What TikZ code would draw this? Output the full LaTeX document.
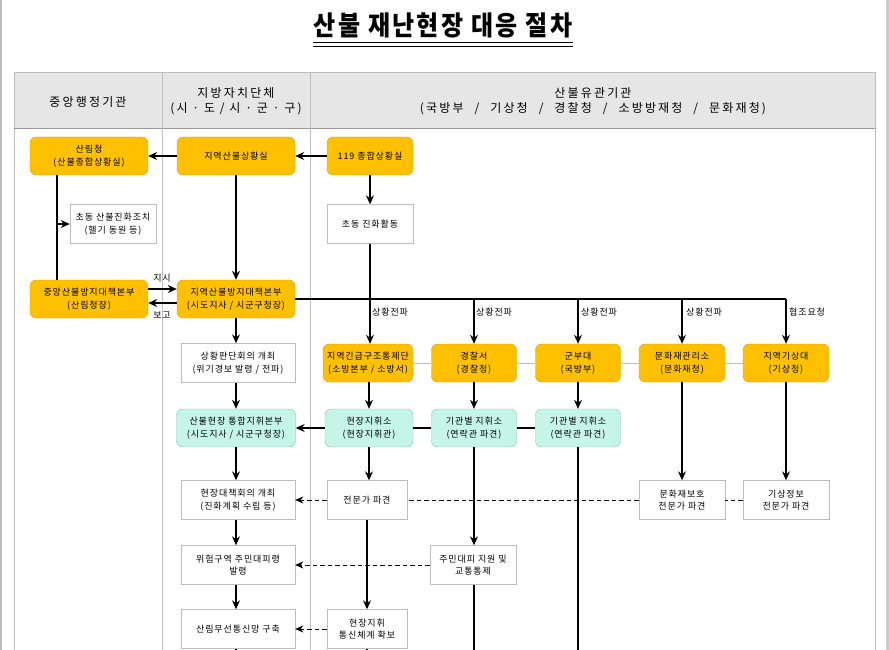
\documentclass[tikz,border=0pt]{standalone}
\usepackage{fontspec}
\setmainfont{Noto Sans CJK KR}
\newfontfamily\boxfont{Noto Sans CJK KR}[LetterSpace=10]
\newfontfamily\headfont{Noto Sans CJK KR}[LetterSpace=18]
\usetikzlibrary{arrows.meta}
\definecolor{boxorange}{HTML}{FFC000}
\definecolor{orangeline}{HTML}{D4A017}
\definecolor{boxmint}{HTML}{C4F5E6}
\definecolor{mintline}{HTML}{86BFAC}
\definecolor{headgray}{HTML}{E6E6E6}
\definecolor{rulegray}{HTML}{BDBDBD}
\newcommand{\slashsep}{\hskip 11pt/\hskip 11pt}
\begin{document}
\begin{tikzpicture}[x=1pt, y=-1pt,
    font=\boxfont\fontsize{9}{12.5}\selectfont,
    obox/.style={draw=orangeline, fill=boxorange, rounded corners=6pt,
        minimum height=38pt, inner sep=1pt, align=center},
    mbox/.style={draw=mintline, fill=boxmint, rounded corners=6pt,
        minimum height=38pt, inner sep=1pt, align=center},
    wbox/.style={draw=rulegray, fill=white, minimum height=39pt,
        inner sep=1pt, align=center},
    arr/.style={-{Stealth[length=9pt, width=8pt, inset=3pt]},
        line width=1.1pt},
    link/.style={line width=1.1pt},
    darr/.style={-{Stealth[length=8pt, width=7pt, inset=2.5pt]},
        line width=0.9pt, dash pattern=on 4.5pt off 3pt},
    dline/.style={line width=0.9pt, dash pattern=on 4.5pt off 3pt},
    head/.style={font=\headfont\fontsize{12}{15}\selectfont, align=center},
    lbl/.style={inner sep=1pt, anchor=west}]
    \useasboundingbox (0, 0) rectangle (889, 650);
    % page and table frame
    \draw[rulegray, line width=1.2pt] (1, 0) -- (1, 650);
    \fill[rulegray!80] (886, 0) rectangle (889, 650);
    \fill[headgray] (14, 72) rectangle (875, 129);
    \draw[rulegray] (14, 650) -- (14, 72) -- (875, 72) -- (875, 650);
    \draw[rulegray!80!black, line width=1pt] (14, 129) -- (875, 129);
    \draw[rulegray] (162, 72) -- (162, 650);
    \draw[rulegray] (310, 72) -- (310, 650);
    % title
    \node (title) at (443, 25.5) {\fontsize{24}{27}\selectfont\bfseries
        \scalebox{1}[1.12]{산불 재난현장 대응 절차}};
    \draw[line width=1.4pt] (313, 42.5) -- (573, 42.5);
    \draw[line width=1.4pt] (313, 46.5) -- (573, 46.5);
    % column heads
    \node[head] (headA) at (88, 102) {중앙행정기관};
    \node[head] (headB) at (236, 101) {지방자치단체\\(시 · 도 / 시 · 군 · 구)};
    \node[head] (headC) at (593, 101)
        {산불유관기관\\(국방부\slashsep 기상청\slashsep 경찰청\slashsep
        소방방재청\slashsep 문화재청)};
    % first rows
    \node[obox, minimum width=118pt] (sanrim) at (89, 156)
        {산림청\\(산불종합상황실)};
    \node[obox, minimum width=118pt] (jisit) at (236, 156) {지역산불상황실};
    \node[obox, minimum width=86pt] (sit119) at (370, 156) {119 종합상황실};
    \node[wbox, minimum width=86pt] (chosan) at (113, 224)
        {초동 산불진화조치\\(헬기 동원 등)};
    \node[wbox, minimum width=86pt] (chojin) at (370, 224) {초동 진화활동};
    \node[obox, minimum width=118pt] (jungbon) at (89, 299)
        {중앙산불방지대책본부\\(산림청장)};
    \node[obox, minimum width=118pt] (jibon) at (236, 299)
        {지역산불방지대책본부\\(시도지사 / 시군구청장)};
    \node[wbox, minimum width=114pt] (panhoe) at (238, 363)
        {상황판단회의 개최\\(위기경보 발령 / 전파)};
    % agencies
    \node[obox, minimum width=90pt] (gingeup) at (368, 363)
        {지역긴급구조통제단\\(소방본부 / 소방서)};
    \node[obox, minimum width=85pt] (police) at (474, 363) {경찰서\\(경찰청)};
    \node[obox, minimum width=85pt] (army) at (578, 363) {군부대\\(국방부)};
    \node[obox, minimum width=86pt] (munso) at (682, 363)
        {문화재관리소\\(문화재청)};
    \node[obox, minimum width=86pt] (gisang) at (786, 363)
        {지역기상대\\(기상청)};
    % field command
    \node[mbox, minimum width=119pt] (tonghap) at (236, 428)
        {산불현장 통합지휘본부\\(시도지사 / 시군구청장)};
    \node[mbox, minimum width=88pt] (hyeonji) at (369, 428)
        {현장지휘소\\(현장지휘관)};
    \node[mbox, minimum width=85pt] (gigwanA) at (474, 428)
        {기관별 지휘소\\(연락관 파견)};
    \node[mbox, minimum width=85pt] (gigwanB) at (578, 428)
        {기관별 지휘소\\(연락관 파견)};
    % lower rows
    \node[wbox, minimum width=114pt] (daehoe) at (238, 500)
        {현장대책회의 개최\\(진화계획 수립 등)};
    \node[wbox, minimum width=80pt] (expert) at (367, 500) {전문가 파견};
    \node[wbox, minimum width=86pt] (munex) at (682, 500)
        {문화재보호\\전문가 파견};
    \node[wbox, minimum width=86pt] (gisex) at (786, 500)
        {기상정보\\전문가 파견};
    \node[wbox, minimum width=114pt] (wiheom) at (238, 565)
        {위험구역 주민대피령\\발령};
    \node[wbox, minimum width=86pt] (daepi) at (473, 565)
        {주민대피 지원 및\\교통통제};
    \node[wbox, minimum width=114pt] (museon) at (238, 629)
        {산림무선통신망 구축};
    \node[wbox, minimum width=80pt] (tongsin) at (367, 629)
        {현장지휘\\통신체계 확보};
    \coordinate (bottom) at (0, 650);
    % connectors
    \draw[arr] (jisit) -- (sanrim);
    \draw[arr] (sit119) -- (jisit);
    \draw[arr] (sit119) -- (chojin);
    \coordinate (sanline) at ([xshift=-32pt]sanrim.south);
    \draw[link] (sanline) -- (sanline |- jungbon.north);
    \draw[arr] (sanline |- chosan.west) -- (chosan.west);
    \draw[arr] (jisit) -- (jibon);
    \draw[arr] ([yshift=10pt]jungbon.east) -- ([yshift=10pt]jibon.west);
    \draw[arr] ([yshift=-4pt]jibon.west) -- ([yshift=-4pt]jungbon.east);
    \node (jisi) at (162, 278) {지시};
    \node (bogo) at (162, 315) {보고};
    \draw[link] (jibon.east) -- (jibon.east -| gisang.north);
    \draw[arr] (chojin) -- (gingeup.north -| chojin);
    \foreach \ag in {police, army, munso, gisang}
        \draw[arr] (jibon.east -| \ag.north) -- (\ag.north);
    \node[lbl] (jeonA) at (371, 312) {상황전파};
    \node[lbl] (jeonB) at (475, 312) {상황전파};
    \node[lbl] (jeonC) at (580, 312) {상황전파};
    \node[lbl] (jeonD) at (685, 312) {상황전파};
    \node[lbl] (hyeopjo) at (788, 312) {협조요청};
    \draw[rulegray] (gingeup) -- (police);
    \draw[rulegray] (police) -- (army);
    \draw[rulegray] (army) -- (munso);
    \draw[rulegray] (munso) -- (gisang);
    \draw[arr] (jibon) -- (panhoe.north -| jibon);
    \draw[arr] (panhoe.south -| tonghap) -- (tonghap);
    \draw[arr] (gingeup.south -| hyeonji) -- (hyeonji);
    \draw[arr] (police) -- (gigwanA);
    \draw[arr] (army) -- (gigwanB);
    \draw[arr] (hyeonji) -- (tonghap);
    \draw[link] (hyeonji) -- (gigwanA);
    \draw[link] (gigwanA) -- (gigwanB);
    \draw[arr] (tonghap) -- (daehoe.north -| tonghap);
    \draw[arr] (hyeonji) -- (expert.north -| hyeonji);
    \draw[arr] (munso) -- (munex);
    \draw[arr] (gisang) -- (gisex);
    \draw[dline] (gisex) -- (munex);
    \draw[dline] (munex) -- (expert);
    \draw[darr] (expert) -- (daehoe);
    \draw[arr] (daehoe.south -| tonghap) -- (wiheom.north -| tonghap);
    \draw[arr] (gigwanA) -- (daepi.north -| gigwanA);
    \draw[darr] (daepi) -- (wiheom);
    \draw[arr] (wiheom.south -| tonghap) -- (museon.north -| tonghap);
    \draw[arr] (expert) -- (tongsin);
    \draw[darr] (tongsin) -- (museon);
    \draw[link] (museon.south -| tonghap) -- (bottom -| tonghap);
    \draw[link] (tongsin) -- (bottom -| tongsin);
    \draw[link] (daepi.south -| gigwanA) -- (bottom -| gigwanA);
    \draw[link] (gigwanB) -- (bottom -| gigwanB);
\end{tikzpicture}
\end{document}
